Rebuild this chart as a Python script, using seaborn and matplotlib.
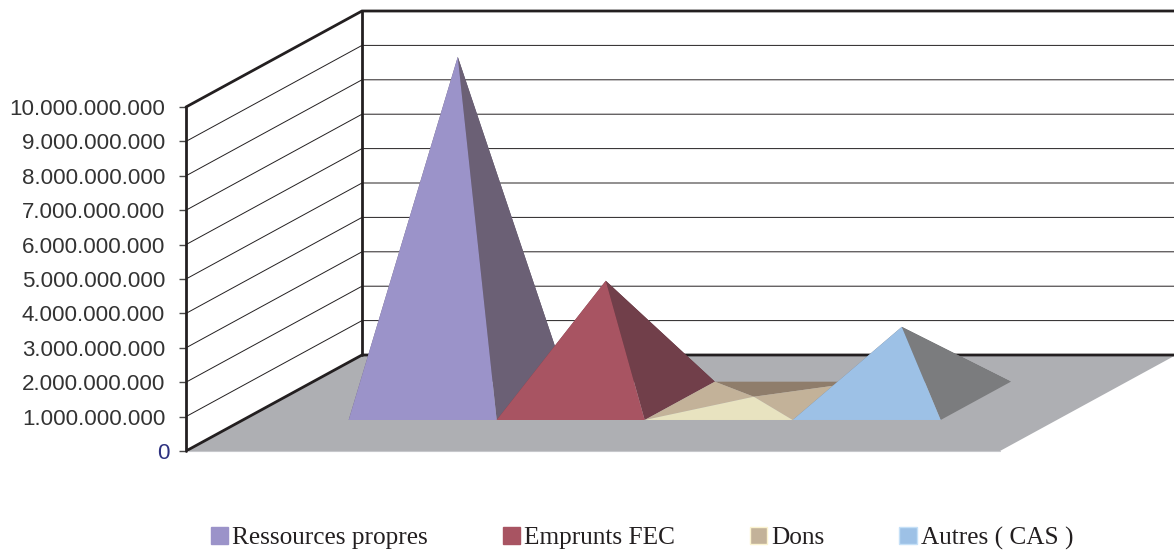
import matplotlib
matplotlib.use("Agg")
import matplotlib.pyplot as plt
from matplotlib.patches import Patch, Polygon
import seaborn as sns

# Funding sources and their amounts
categories = ["Ressources propres", "Emprunts FEC", "Dons", "Autres ( CAS )"]
amounts = [10.0e9, 3.49e9, 0.12e9, 2.15e9]
axis_ticks = [0, 1e9, 2e9, 3e9, 4e9, 5e9, 6e9, 7e9, 8e9, 9e9, 10e9]

# Face shades per source: front, left, right, back
front_colors = ["#9B93C9", "#A85462", "#E8E3C0", "#9DC1E6"]
side_colors = ["#6B6075", "#713F4A", "#C3B299", "#7B7C7E"]
left_colors = ["#6B6075", "#713F4A", "#C3B299", "#7B7C7E"]
back_colors = ["#5A5064", "#5E343E", "#8F7D6B", "#68696B"]
swatch_colors = ["#9B93C9", "#A85462", "#C3B299", "#9DC1E6"]
swatch_edges = ["#9B93C9", "#A85462", "#FBF3D0", "#C5E0F7"]

INK = "#231F20"
FLOOR = "#AEAFB3"

# Oblique projection: one depth unit moves a point right and up
DEPTH_DX = 176 / 148
DEPTH_DY = 96 / 34.4 * 1e9
FLOOR_WIDTH = 5.5
FIRST_CATEGORY = 0.715
BASE_FRONT, BASE_BACK = 0.323, 0.722


def project(u, depth, value=0.0):
    return (u + depth * DEPTH_DX, value + depth * DEPTH_DY)


sns.set_theme(style="white")
plt.rcParams["font.family"] = ["Liberation Sans", "DejaVu Sans"]

fig = plt.figure(figsize=(11.74, 5.5), dpi=100, facecolor="white")
ax = fig.add_axes([186 / 1174, 99 / 550, 988 / 1174, 440 / 550])
ax.set_xlim(0, 988 / 148)
ax.set_ylim(0, 440 / 34.4 * 1e9)
ax.patch.set_alpha(0)

top = axis_ticks[-1]

# Floor
ax.add_patch(Polygon([project(0, 0), project(0, 1), project(FLOOR_WIDTH, 1), project(FLOOR_WIDTH, 0)],
                     closed=True, facecolor=FLOOR, edgecolor="none", zorder=1))
ax.plot(*zip(project(0, 0), project(FLOOR_WIDTH, 0)), color="#C6C7CB", lw=0.8, zorder=1.1, clip_on=False)

# Gridlines on the side wall and the back wall
for tick in axis_ticks[1:-1]:
    ax.plot(*zip(project(0, 0, tick), project(0, 1, tick), project(10, 1, tick)),
            color=INK, lw=0.7, zorder=2)

# Heavy frame of the walls and floor
ax.plot(*zip(project(0, 0), project(0, 1), project(10, 1)), color=INK, lw=2.0, zorder=3, solid_joinstyle="miter")
ax.plot(*zip(project(0, 0, top), project(0, 1, top), project(10, 1, top)), color=INK, lw=2.0, zorder=3,
        clip_on=False, solid_joinstyle="miter")
ax.plot(*zip(project(0, 1), project(0, 1, top)), color=INK, lw=2.0, zorder=3, clip_on=False)
ax.plot(*zip(project(0, 0), project(0, 0, top)), color=INK, lw=2.0, zorder=3, clip_on=False)

# One pyramid per source, painted back to front and left to right
for i, value in enumerate(amounts):
    left = FIRST_CATEGORY + i
    right = left + 1
    fl, fr = project(left, BASE_FRONT), project(right, BASE_FRONT)
    bl, br = project(left, BASE_BACK), project(right, BASE_BACK)
    apex = project(left + 0.5, (BASE_FRONT + BASE_BACK) / 2, value)
    faces = [([bl, br, apex], back_colors[i]),
             ([fl, bl, apex], left_colors[i]),
             ([fr, br, apex], side_colors[i]),
             ([fl, fr, apex], front_colors[i])]
    for j, (pts, shade) in enumerate(faces):
        ax.add_patch(Polygon(pts, closed=True, facecolor=shade, edgecolor="none", zorder=4 + i + j * 0.1))

# Value axis on the front edge of the side wall
sns.despine(ax=ax, left=True, right=True, top=True, bottom=True)
ax.set_xticks([])
ax.set_yticks(axis_ticks)
ax.set_yticklabels([f"{int(t):,}".replace(",", ".") for t in axis_ticks])
ax.tick_params(axis="y", left=True, length=5, width=1.0, color="#4A4A4A", pad=10,
               labelsize=16.1, labelcolor="#333333")
zero_label = ax.get_yticklabels()[0]
zero_label.set_color("#2E3280")
zero_label.set_x(0.005)

# Legend along the bottom
handles = [Patch(facecolor=c, edgecolor=e, linewidth=1.0, label=name)
           for c, e, name in zip(swatch_colors, swatch_edges, categories)]
fig.legend(handles=handles, ncol=4, loc="center", bbox_to_anchor=(642 / 1174, 12 / 550),
           frameon=False, borderpad=0, borderaxespad=0, handlelength=0.69, handleheight=0.69,
           handletextpad=0.16, columnspacing=2.97,
           prop={"family": "Liberation Serif", "size": 18.15}, labelcolor="#231F20")

fig.savefig("out.png", dpi=100, facecolor="white")
